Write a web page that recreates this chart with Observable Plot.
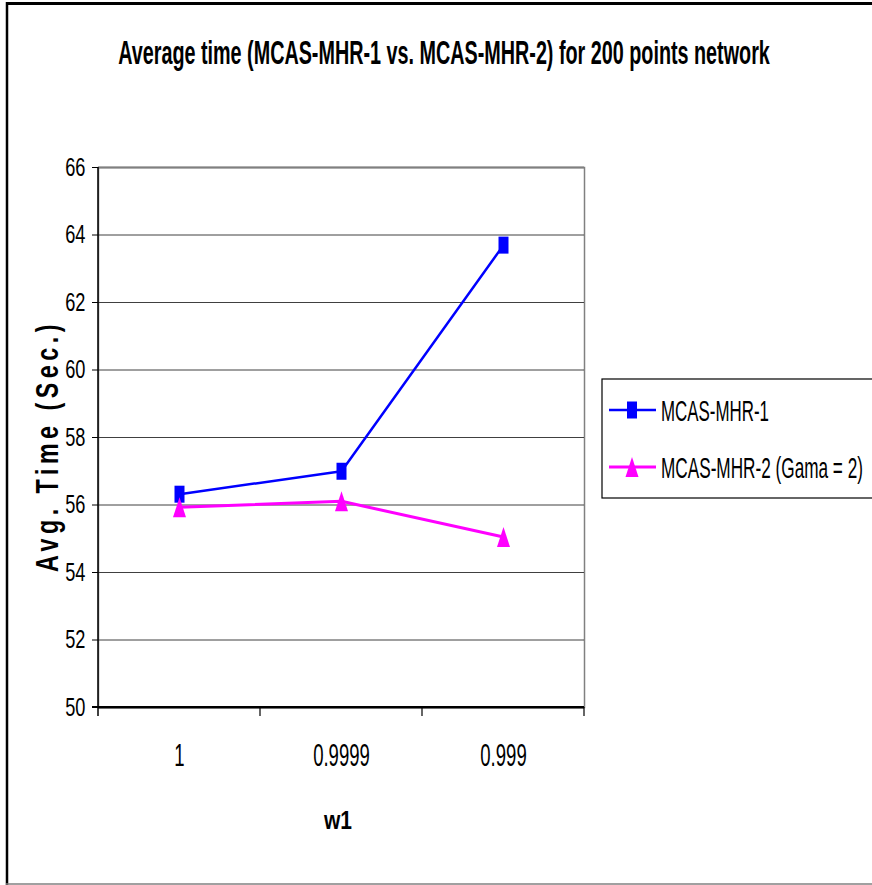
<!DOCTYPE html>
<html><head><meta charset="utf-8">
<script src="https://cdn.jsdelivr.net/npm/d3@7"></script>
<script src="https://cdn.jsdelivr.net/npm/@observablehq/plot@0.6"></script>
<style>
html,body{margin:0;padding:0;background:#fff;}
svg text{font-family:"Liberation Sans",Arial,sans-serif;}
</style></head><body><div id="chart"></div>
<script>
const categories = ["1", "0.9999", "0.999"];
const series1Name = "MCAS-MHR-1";
const series2Name = "MCAS-MHR-2 (Gama = 2)";
const series1Values = [56.32, 57.0, 63.7];
const series2Values = [55.93, 56.11, 55.05];
const yTicks = [50, 52, 54, 56, 58, 60, 62, 64, 66];
const titleText = "Average time (MCAS-MHR-1 vs. MCAS-MHR-2) for 200 points network";
const xLabel = "w1";
const yLabel = "Avg. Time (Sec.)";

const s1 = categories.map((c, i) => ({x: c, y: series1Values[i]}));
const s2 = categories.map((c, i) => ({x: c, y: series2Values[i]}));

const rectSymbol = {draw(ctx) { ctx.moveTo(-5, -8.5); ctx.lineTo(5, -8.5); ctx.lineTo(5, 8.5); ctx.lineTo(-5, 8.5); ctx.closePath(); }};
const triSymbol = {draw(ctx) { ctx.moveTo(0, -10); ctx.lineTo(6.5, 10); ctx.lineTo(-6.5, 10); ctx.closePath(); }};

const plot = Plot.plot({
  width: 872, height: 885,
  marginLeft: 98, marginRight: 288, marginTop: 167, marginBottom: 178,
  style: {background: "white", overflow: "visible", color: "black"},
  x: {type: "band", domain: categories, padding: 0},
  y: {domain: [50, 66]},
  marks: [
    Plot.frame({stroke: "#808080", strokeWidth: 1.5}),
    Plot.ruleY(yTicks.slice(1, -1), {stroke: "#404040", strokeWidth: 1}),
    Plot.ruleY([66], {stroke: "#808080", strokeWidth: 2}),
    Plot.axisY({ticks: yTicks, tickSize: 6, tickPadding: 7, fontSize: 26, label: null, tickFormat: d => String(d)}),
    Plot.axisX({tickSize: 0, tickPadding: 36, fontSize: 32, label: null}),
    Plot.ruleY([50], {stroke: "black", strokeWidth: 2}),
    Plot.line(s1, {x: "x", y: "y", stroke: "#0000FF", strokeWidth: 2.5}),
    Plot.line(s2, {x: "x", y: "y", stroke: "#FF00FF", strokeWidth: 3}),
    Plot.dot(s1, {x: "x", y: "y", symbol: rectSymbol, fill: "#0000FF", stroke: null}),
    Plot.dot(s2, {x: "x", y: "y", symbol: triSymbol, fill: "#FF00FF", stroke: null})
  ]
});
document.getElementById("chart").appendChild(plot);

const svg = d3.select(plot);
const xs = plot.scale("x"), ys = plot.scale("y");
const [x0, x1] = xs.range;
const yTop = ys.apply(66), yBot = ys.apply(50);
const bw = xs.bandwidth;

function narrow(sel, size, factor) {
  sel.each(function() {
    this.setAttribute("font-size", size);
    const t = this.getAttribute("transform") || "";
    this.setAttribute("transform", t + ` scale(${factor},1)`);
  });
}
narrow(svg.selectAll('g[aria-label="y-axis tick label"] text'), 26, 0.7);
narrow(svg.selectAll('g[aria-label="x-axis tick label"] text'), 32, 0.58);

const ov = svg.append("g");
ov.append("line").attr("x1", x0).attr("x2", x0).attr("y1", yTop).attr("y2", yBot + 9).attr("stroke", "black").attr("stroke-width", 1.5);
ov.append("line").attr("x1", x0 - 6).attr("x2", x1).attr("y1", yBot).attr("y2", yBot).attr("stroke", "black").attr("stroke-width", 2);
categories.forEach(c => {
  const bx = xs.apply(c) + bw;
  ov.append("line").attr("x1", bx).attr("x2", bx).attr("y1", yBot).attr("y2", yBot + 9).attr("stroke", "black").attr("stroke-width", 1.2);
});

function txt(s, x, y, size, weight, anchor, width, rot, spacing) {
  const t = ov.append("text").text(s).attr("font-size", size)
    .attr("font-weight", weight).attr("text-anchor", anchor).attr("fill", "black");
  if (spacing) t.attr("letter-spacing", spacing);
  const w = t.node().getComputedTextLength();
  const sx = width ? width / w : 1;
  t.attr("transform", `translate(${x},${y})${rot ? ` rotate(${rot})` : ""} scale(${sx},1)`);
  return t;
}
txt(titleText, 444, 64, 34, "bold", "middle", 652);
txt(xLabel, 338, 829, 26, "bold", "middle", 28);
txt(yLabel, 58, 446, 31, "bold", "middle", 252, -90, 6);

ov.append("rect").attr("x", 602).attr("y", 379).attr("width", 290).attr("height", 119)
  .attr("fill", "white").attr("stroke", "black").attr("stroke-width", 1.2);
const leg = [
  {name: series1Name, color: "#0000FF", sym: rectSymbol, sw: 2.5, y: 410, len: 108},
  {name: series2Name, color: "#FF00FF", sym: triSymbol, sw: 3, y: 467, len: 202}
];
leg.forEach(l => {
  ov.append("line").attr("x1", 609).attr("x2", 656).attr("y1", l.y).attr("y2", l.y).attr("stroke", l.color).attr("stroke-width", l.sw);
  ov.append("path").attr("d", d3.symbol(l.sym)()).attr("transform", `translate(632,${l.y})`).attr("fill", l.color);
  txt(l.name, 661, l.y + 11, 30, "normal", "start", l.len);
});

ov.append("line").attr("x1", 6).attr("x2", 872).attr("y1", 3.5).attr("y2", 3.5).attr("stroke", "black").attr("stroke-width", 3);
ov.append("line").attr("x1", 7).attr("x2", 7).attr("y1", 2).attr("y2", 885).attr("stroke", "black").attr("stroke-width", 2.5);
ov.append("line").attr("x1", 6).attr("x2", 872).attr("y1", 884).attr("y2", 884).attr("stroke", "#808080").attr("stroke-width", 1.5);
</script></body></html>
